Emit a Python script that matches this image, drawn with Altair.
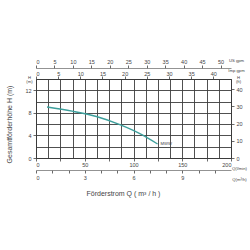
import altair as alt
import pandas as pd

# Pump curve (flow in l/min, head in m)
q_lmin = [11.3, 37.0, 62.0, 86.0, 106.0, 124.7]
h_m = [9.04, 8.3, 7.35, 5.9, 4.35, 2.48]
curve_label = ["", "", "", "", "", "MWW"]

# Axis tick values
lmin_grid = [0, 12.5, 25, 37.5, 50, 62.5, 75, 87.5, 100, 112.5, 125, 137.5, 150, 162.5, 175, 187.5, 200]
h_grid = [0, 2, 4, 6, 8, 10, 12, 14]
imp_ticks = [0, 5, 10, 15, 20, 25, 30, 35, 40]
us_ticks = [0, 5, 10, 15, 20, 25, 30, 35, 40, 45, 50]
m3h_ticks = [0, 1, 2, 3, 4, 5, 6, 7, 8, 9, 10, 11]
ft_ticks = [0, 10, 20, 30, 40]

Q_MAX = 200
H_MAX = 14
LMIN_PER_IMP = 4.54609
LMIN_PER_US = 3.78541
LMIN_PER_M3H = 1000 / 60
FT_PER_M = 3.28084

FONT = "Liberation Sans"
TXT = "#444444"
GRID = "#3c3c3c"
LBL = 5.5
UNIT = 4.2

df = pd.DataFrame({"q": q_lmin, "h": h_m, "label": curve_label})
base = alt.Chart(df)

xs_main = alt.Scale(domain=[0, Q_MAX], nice=False, zero=True)
ys_main = alt.Scale(domain=[0, H_MAX], nice=False, zero=True)

common_axis = dict(labelFont=FONT, labelColor=TXT, labelFontSize=LBL, tickColor=TXT,
                   titleFont=FONT, titleColor=TXT, titleFontWeight="normal")

# Main layer: curve + grid + l/min and m axes
curve = base.mark_line(color="#3d9f9c", strokeWidth=1.4, interpolate="monotone").encode(
    x=alt.X("q:Q", scale=xs_main, axis=alt.Axis(
        orient="bottom", values=lmin_grid, grid=True, gridColor=GRID, gridWidth=0.9,
        domain=False, tickSize=3, tickWidth=0.8,
        tickOpacity={"condition": {"test": "datum.value % 25 === 0", "value": 1}, "value": 0},
        labelExpr="datum.value % 50 === 0 ? datum.label : ''", labelPadding=1,
        title="Q(l/min)", titleFontSize=UNIT, titleX=203, titleY=10,
        titleAlign="center", titleBaseline="middle", **common_axis)),
    y=alt.Y("h:Q", scale=ys_main, axis=alt.Axis(
        orient="left", values=h_grid, grid=True, gridColor=GRID, gridWidth=0.9,
        domain=False, tickSize=3, tickWidth=0.8,
        tickOpacity={"condition": {"test": "datum.value % 4 === 0 && datum.value < 14", "value": 1}, "value": 0},
        labelExpr="datum.value % 4 === 0 && datum.value < 14 ? datum.label : ''", labelPadding=2,
        title=["H", "(m)"], titleFontSize=UNIT, titleAngle=0, titleX=-7, titleY=0,
        titleAlign="center", titleBaseline="bottom", titleLineHeight=4, **common_axis)),
)

curve_text = base.mark_text(align="left", baseline="middle", dx=3, fontSize=UNIT,
                            font=FONT, color=TXT).encode(
    x=alt.X("q:Q", scale=xs_main, axis=None),
    y=alt.Y("h:Q", scale=ys_main, axis=None),
    text="label:N",
)

# Imp gpm (top, on the frame)
imp = base.transform_calculate(v=f"datum.q / {LMIN_PER_IMP}").mark_point(opacity=0).encode(
    x=alt.X("v:Q", scale=alt.Scale(domain=[0, Q_MAX / LMIN_PER_IMP], nice=False, zero=True),
            axis=alt.Axis(orient="top", values=imp_ticks, domain=False, grid=False,
                          tickSize=3, tickWidth=0.8, labelPadding=0,
                          title="Imp gpm", titleFontSize=UNIT, titleX=200, titleY=-9,
                          titleAlign="center", titleBaseline="middle", **common_axis)),
)

# US gpm (top, offset)
us = base.transform_calculate(v=f"datum.q / {LMIN_PER_US}").mark_point(opacity=0).encode(
    x=alt.X("v:Q", scale=alt.Scale(domain=[0, Q_MAX / LMIN_PER_US], nice=False, zero=True),
            axis=alt.Axis(orient="top", offset=11, values=us_ticks, domain=True,
                          domainColor="#777777", domainWidth=0.8, grid=False,
                          tickSize=3, tickWidth=0.8, labelPadding=1,
                          title="US gpm", titleFontSize=UNIT, titleX=200, titleY=-8,
                          titleAlign="center", titleBaseline="middle", **common_axis)),
)

# m3/h (bottom, offset)
m3h = base.transform_calculate(v=f"datum.q / {LMIN_PER_M3H}").mark_point(opacity=0).encode(
    x=alt.X("v:Q", scale=alt.Scale(domain=[0, Q_MAX / LMIN_PER_M3H], nice=False, zero=True),
            axis=alt.Axis(orient="bottom", offset=12, values=m3h_ticks, domain=True,
                          domainColor="#777777", domainWidth=0.8, grid=False,
                          tickSize=3, tickWidth=0.8, labelPadding=2,
                          labelExpr="datum.value % 3 === 0 ? datum.label : ''",
                          title="Q(m³/h)", titleFontSize=UNIT, titleX=203, titleY=9,
                          titleAlign="center", titleBaseline="middle", **common_axis)),
)

# ft (right)
ft = base.transform_calculate(v=f"datum.h * {FT_PER_M}").mark_point(opacity=0).encode(
    y=alt.Y("v:Q", scale=alt.Scale(domain=[0, H_MAX * FT_PER_M], nice=False, zero=True),
            axis=alt.Axis(orient="right", values=ft_ticks, domain=False, grid=False,
                          tickSize=3, tickWidth=0.8, labelPadding=2,
                          title=["H", "(ft)"], titleFontSize=UNIT, titleAngle=0,
                          titleX=7, titleY=0, titleAlign="center", titleBaseline="bottom",
                          titleLineHeight=4, **common_axis)),
)

# Main axis titles
titles = base.mark_point(opacity=0).encode(
    x=alt.X("q:Q", scale=xs_main, axis=alt.Axis(
        orient="bottom", labels=False, ticks=False, domain=False, grid=False,
        title="Förderstrom Q ( m³ / h )", titleFontSize=7, titleX=87, titleY=35,
        titleAlign="center", titleBaseline="middle", titleFont=FONT, titleColor=TXT,
        titleFontWeight="normal")),
    y=alt.Y("h:Q", scale=ys_main, axis=alt.Axis(
        orient="left", labels=False, ticks=False, domain=False, grid=False,
        title="Gesamtförderhöhe  H (m)", titleFontSize=7, titleAngle=-90,
        titleX=-27, titleY=45, titleAlign="center", titleBaseline="middle",
        titleFont=FONT, titleColor=TXT, titleFontWeight="normal")),
)

chart = alt.layer(curve, curve_text, imp, us, m3h, ft, titles).resolve_scale(
    x="independent", y="independent"
).resolve_axis(x="independent", y="independent").properties(
    width=195, height=79,
    padding={"left": 36, "top": 79, "right": 19, "bottom": 92},
    autosize=alt.AutoSizeParams(type="none"),
    background="white",
).configure_view(stroke="#333333", strokeWidth=1)

chart.save("out.html", embed_options={"renderer": "svg", "actions": False})
